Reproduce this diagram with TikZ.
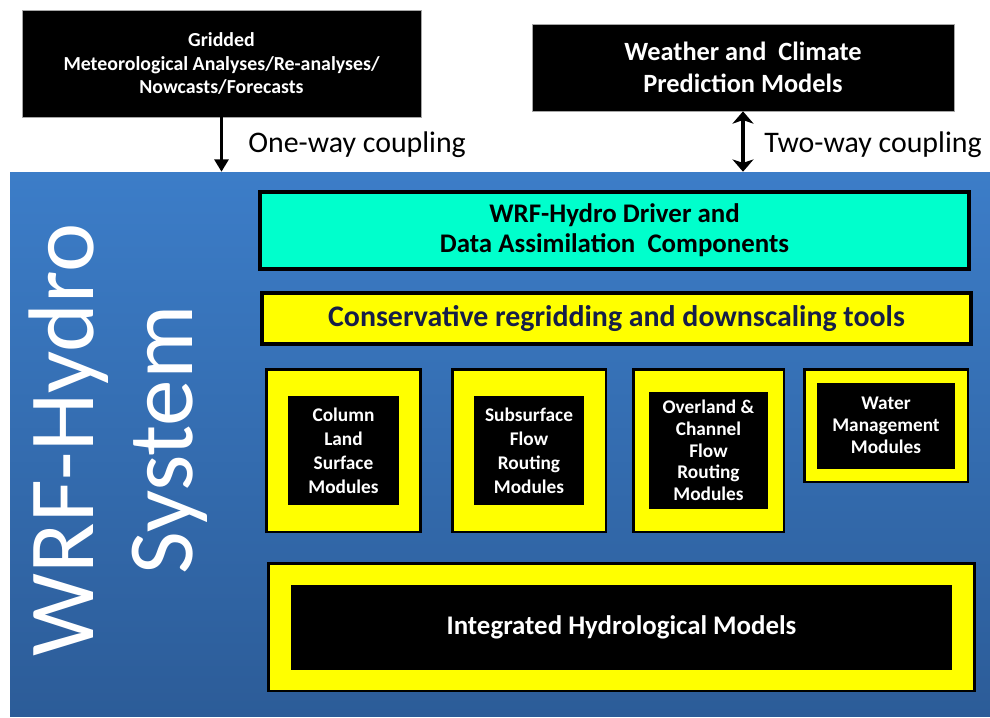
\documentclass[tikz,border=0pt]{standalone}
\usepackage{fontspec}
\setmainfont{Carlito}
\usetikzlibrary{positioning,arrows.meta}
\definecolor{sysblue}{RGB}{60,125,200}
\definecolor{sysbluedark}{RGB}{44,92,152}
\definecolor{drivercyan}{RGB}{0,255,204}
\definecolor{gridyellow}{RGB}{255,255,0}
\definecolor{navytext}{RGB}{22,30,72}
\tikzset{
  system/.style   = {rectangle, inner sep=0pt, top color=sysblue, bottom color=sysbluedark},
  source/.style   = {rectangle, fill=black, draw=gray!70, thin, text=white, align=center},
  bar/.style      = {rectangle, draw=black, line width=2.2pt, align=center},
  modframe/.style = {rectangle, fill=gridyellow, draw=black, line width=1.7pt},
  modcore/.style  = {rectangle, fill=black, text=white, align=center,
                     font=\fontsize{11}{13.6}\selectfont\bfseries},
  coupling/.style = {anchor=west, inner sep=0pt, font=\fontsize{17}{20}\selectfont},
}
\newcommand{\DrawModule}[8]{%
  % yellow frame with black rim
  \node[modframe, minimum width=#3, minimum height=#4] (#1) at #2 {};
  % black core holding the module name
  \node[modcore, minimum width=#5, minimum height=#6, #7] (#1core) at (#1.center) {#8};
}

\begin{document}
\begin{tikzpicture}[x=0.02cm, y=-0.02cm]
    \useasboundingbox (0,0) rectangle (990,717);

    % the system itself
    \node[system, minimum width=19.6cm, minimum height=10.9cm] (sys) at (500,444.5) {};
    \node[text=white, align=center, rotate=90,
          font=\fontsize{53}{56}\selectfont] (sysname) at (118,440) {WRF-Hydro\\System};

    % outside sources
    \node[source, minimum width=7.98cm, minimum height=2.14cm,
          font=\fontsize{11.3}{13.6}\selectfont\bfseries] (grid) at (221.5,63.5)
    {Gridded\\Meteorological Analyses/Re-analyses/\\Nowcasts/Forecasts};

    \node[source, minimum width=8.44cm, minimum height=1.74cm,
          font=\fontsize{15}{18}\selectfont\bfseries] (wcp) at (743,67.5)
    {Weather and~ Climate\\Prediction Models};

    % couplings
    \draw[line width=1.5pt, -{Triangle[length=7pt,width=8pt]}] (grid.south) -- (grid.south |- sys.north);
    \node[coupling] (oneway) at (248,145) {One-way coupling};

    \draw[line width=2pt, {Stealth[length=7pt,width=12pt,inset=2pt]}-{Stealth[length=7pt,width=12pt,inset=2pt]}]
      (wcp.south) -- (wcp.south |- sys.north);
    \node[coupling] (twoway) at (764,145) {Two-way coupling};

    % driver and regridding layers
    \node[bar, fill=drivercyan, minimum width=14.18cm, minimum height=1.54cm,
          font=\fontsize{15.3}{17}\selectfont\bfseries] (driver) at (614.5,230.5)
    {WRF-Hydro Driver and\\Data Assimilation~ Components};

    \node[bar, fill=gridyellow, text=navytext, minimum width=14.18cm, minimum height=1.02cm,
          font=\fontsize{17}{20}\selectfont\bfseries] (regrid) at (616.5,318.5)
    {Conservative regridding and downscaling tools};

    % physics modules
    \DrawModule{column}{(343.5,450.5)}{3.10cm}{3.26cm}{2.24cm}{2.18cm}{}
    {Column\\Land\\Surface\\Modules}
    \DrawModule{subsurf}{(529,450.5)}{3.08cm}{3.26cm}{2.22cm}{2.18cm}{}
    {Subsurface\\Flow\\Routing\\Modules}
    \DrawModule{overland}{(708.5,450.5)}{3.02cm}{3.26cm}{2.38cm}{2.34cm}
    {font=\fontsize{11}{12.3}\selectfont\bfseries}
    {Overland \&\\Channel\\Flow\\Routing\\Modules}
    \DrawModule{water}{(886,425.5)}{3.28cm}{2.26cm}{2.76cm}{1.72cm}
    {font=\fontsize{11}{12.5}\selectfont\bfseries}
    {Water\\Management\\Modules}

    % coupled models
    \DrawModule{ihm}{(621.5,627)}{14.14cm}{2.56cm}{13.24cm}{1.70cm}
    {font=\fontsize{15.3}{18}\selectfont\bfseries}
    {Integrated Hydrological Models}
\end{tikzpicture}
\end{document}
